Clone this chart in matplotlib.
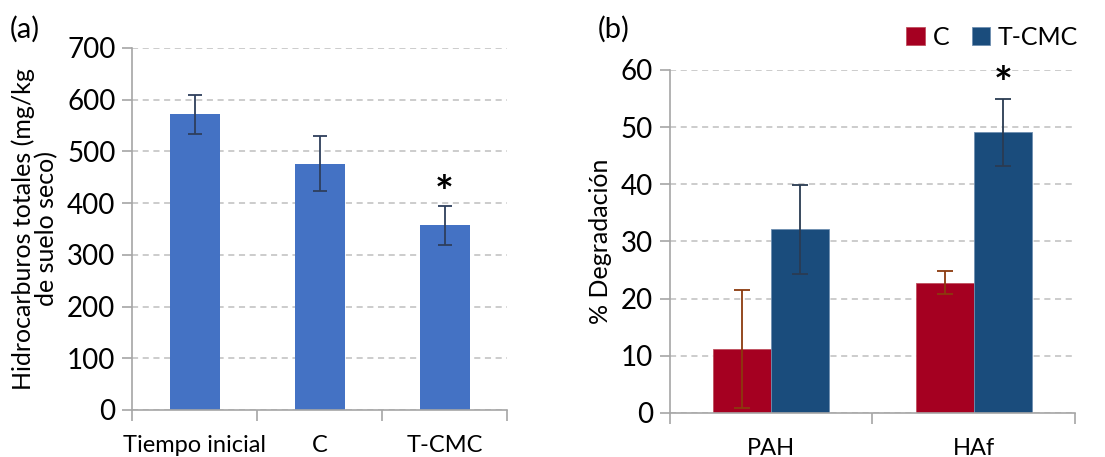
import numpy as np
import matplotlib.pyplot as plt

plt.rcParams['font.family'] = ['Lato', 'DejaVu Sans']

# (a) total hydrocarbons
cats_a = ['Tiempo inicial', 'C', 'T-CMC']
vals_a = [572, 476, 357]
err_a = [38, 53, 38]

# (b) degradation
cats_b = ['PAH', 'HAf']
vals_c = [11.2, 22.8]
err_c = [10.3, 2.0]
vals_t = [32.1, 49.1]
err_t = [7.8, 5.9]

grid_col = '#BFBFBF'
spine_col = '#A6A6A6'

fig = plt.figure(figsize=(11.05, 4.57), dpi=100)

def style(ax, ncat):
    for s in ['top', 'right']:
        ax.spines[s].set_visible(False)
    ax.spines['left'].set_color(spine_col)
    ax.spines['bottom'].set_color(spine_col)
    ax.spines['left'].set_linewidth(1.2)
    ax.spines['bottom'].set_linewidth(1.2)
    ax.yaxis.grid(True, linestyle=(0, (4, 3)), color=grid_col, linewidth=1.1)
    ax.set_axisbelow(True)
    ax.set_xlim(-0.5, ncat - 0.5)
    ax.set_xticks(np.arange(ncat))
    ax.set_xticks(np.arange(ncat + 1) - 0.5, minor=True)
    ax.tick_params(axis='x', which='major', length=0, labelsize=17, pad=18)
    ax.tick_params(axis='x', which='minor', length=8, color=spine_col, width=1.2)
    ax.tick_params(axis='y', length=7, color=spine_col, width=1.2, labelsize=20, pad=5)

# panel (a)
ax1 = fig.add_axes([0.1195, 0.103, 0.3395, 0.792])
x = np.arange(len(cats_a))
ax1.bar(x, vals_a, width=0.4, color='#4472C4', zorder=2)
ax1.errorbar(x, vals_a, yerr=err_a, fmt='none', ecolor='#2E3F5C', elinewidth=1.3,
             capsize=5, capthick=1.3, zorder=3)
style(ax1, len(cats_a))
ax1.set_xticklabels(cats_a)
ax1.set_ylim(0, 700)
ax1.set_yticks(np.arange(0, 701, 100))
ax1.set_ylabel('Hidrocarburos totales (mg/kg\nde suelo seco)', fontsize=18, labelpad=6,
               linespacing=1.0)
ax1.text(x[2], 418, '*', ha='center', va='center', fontsize=32, fontweight='bold',
         clip_on=False)
fig.text(0.009, 0.935, '(a)', fontsize=21, va='center')

# panel (b)
ax2 = fig.add_axes([0.606, 0.0963, 0.367, 0.7507])
xb = np.arange(len(cats_b))
w = 0.286
ax2.bar(xb - w / 2, vals_c, width=w, color='#A50021', edgecolor='#C0505F',
        linewidth=0.6, label='C', zorder=2)
ax2.bar(xb + w / 2, vals_t, width=w, color='#1A4C7C', edgecolor='#6F8FB0',
        linewidth=0.6, label='T-CMC', zorder=2)
ax2.errorbar(xb - w / 2, vals_c, yerr=err_c, fmt='none', ecolor='#8B3A0E', elinewidth=1.3,
             capsize=6, capthick=1.3, zorder=3)
ax2.errorbar(xb + w / 2, vals_t, yerr=err_t, fmt='none', ecolor='#2A3B52', elinewidth=1.3,
             capsize=6, capthick=1.3, zorder=3)
style(ax2, len(cats_b))
ax2.set_xticklabels(cats_b)
ax2.set_ylim(0, 60)
ax2.set_yticks(np.arange(0, 61, 10))
ax2.set_ylabel('% Degradación', fontsize=18, labelpad=6)
ax2.text(xb[1] + w / 2, 57.3, '*', ha='center', va='center', fontsize=32, fontweight='bold',
         clip_on=False)
fig.text(0.541, 0.935, '(b)', fontsize=21, va='center')
fig.legend(loc='center right', bbox_to_anchor=(0.996, 0.918), ncol=2, frameon=False,
           fontsize=18, handlelength=0.75, handleheight=0.75, handletextpad=0.3,
           columnspacing=0.9)

fig.savefig('out.png', dpi=100)
